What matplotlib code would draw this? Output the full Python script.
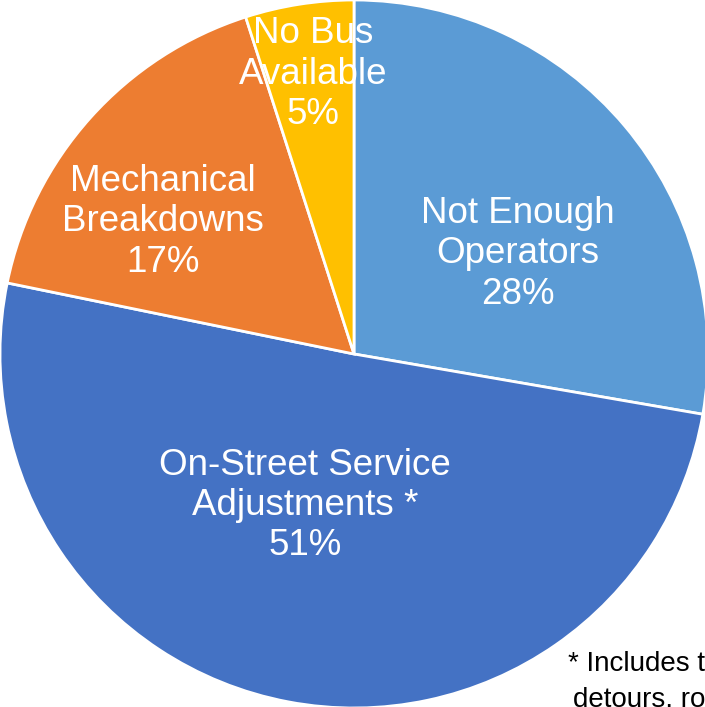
import matplotlib
matplotlib.use("Agg")
import matplotlib.pyplot as plt

plt.rcParams['font.family'] = ['Liberation Sans', 'DejaVu Sans']

# share of missed trips by cause
categories = ["Not Enough\nOperators", "On-Street Service\nAdjustments *",
              "Mechanical\nBreakdowns", "No Bus\nAvailable"]
shares = [28, 51, 17, 5]
colors = ["#5B9BD5", "#4472C4", "#ED7D31", "#FFC000"]
footnote = ["* Includes traffic,", "detours, road closures"]

# label anchor points, axes fraction
label_pos = [(0.735, 0.641), (0.433, 0.285), (0.231, 0.686), (0.444, 0.895)]

W, H = 705, 707
cx, cy, r = 354, 354, 354  # pixels, cy measured from top

fig = plt.figure(figsize=(W / 100, H / 100), dpi=100)
ax = fig.add_axes([0, 0, 1, 1])
wedges, _ = ax.pie(shares, colors=colors, startangle=90, counterclock=False,
                   radius=1.0, wedgeprops=dict(edgecolor="white", linewidth=2))
ax.set_xlim(-cx / r, (W - cx) / r)
ax.set_ylim(-(H - cy) / r, cy / r)
ax.set_aspect("auto")
ax.axis("off")

for name, val, (x, y) in zip(categories, shares, label_pos):
    ax.text(x, y, f"{name}\n{val}%", transform=ax.transAxes, ha="center",
            va="center", color="white", fontsize=26.5, linespacing=1.2)

ax.text(568 / W, 1 - 664 / H, footnote[0], transform=ax.transAxes,
        ha="left", va="center", fontsize=20, color="black")
ax.text(573 / W, 1 - 699 / H, footnote[1], transform=ax.transAxes,
        ha="left", va="center", fontsize=20, color="black")

fig.savefig("out.png", dpi=100)
